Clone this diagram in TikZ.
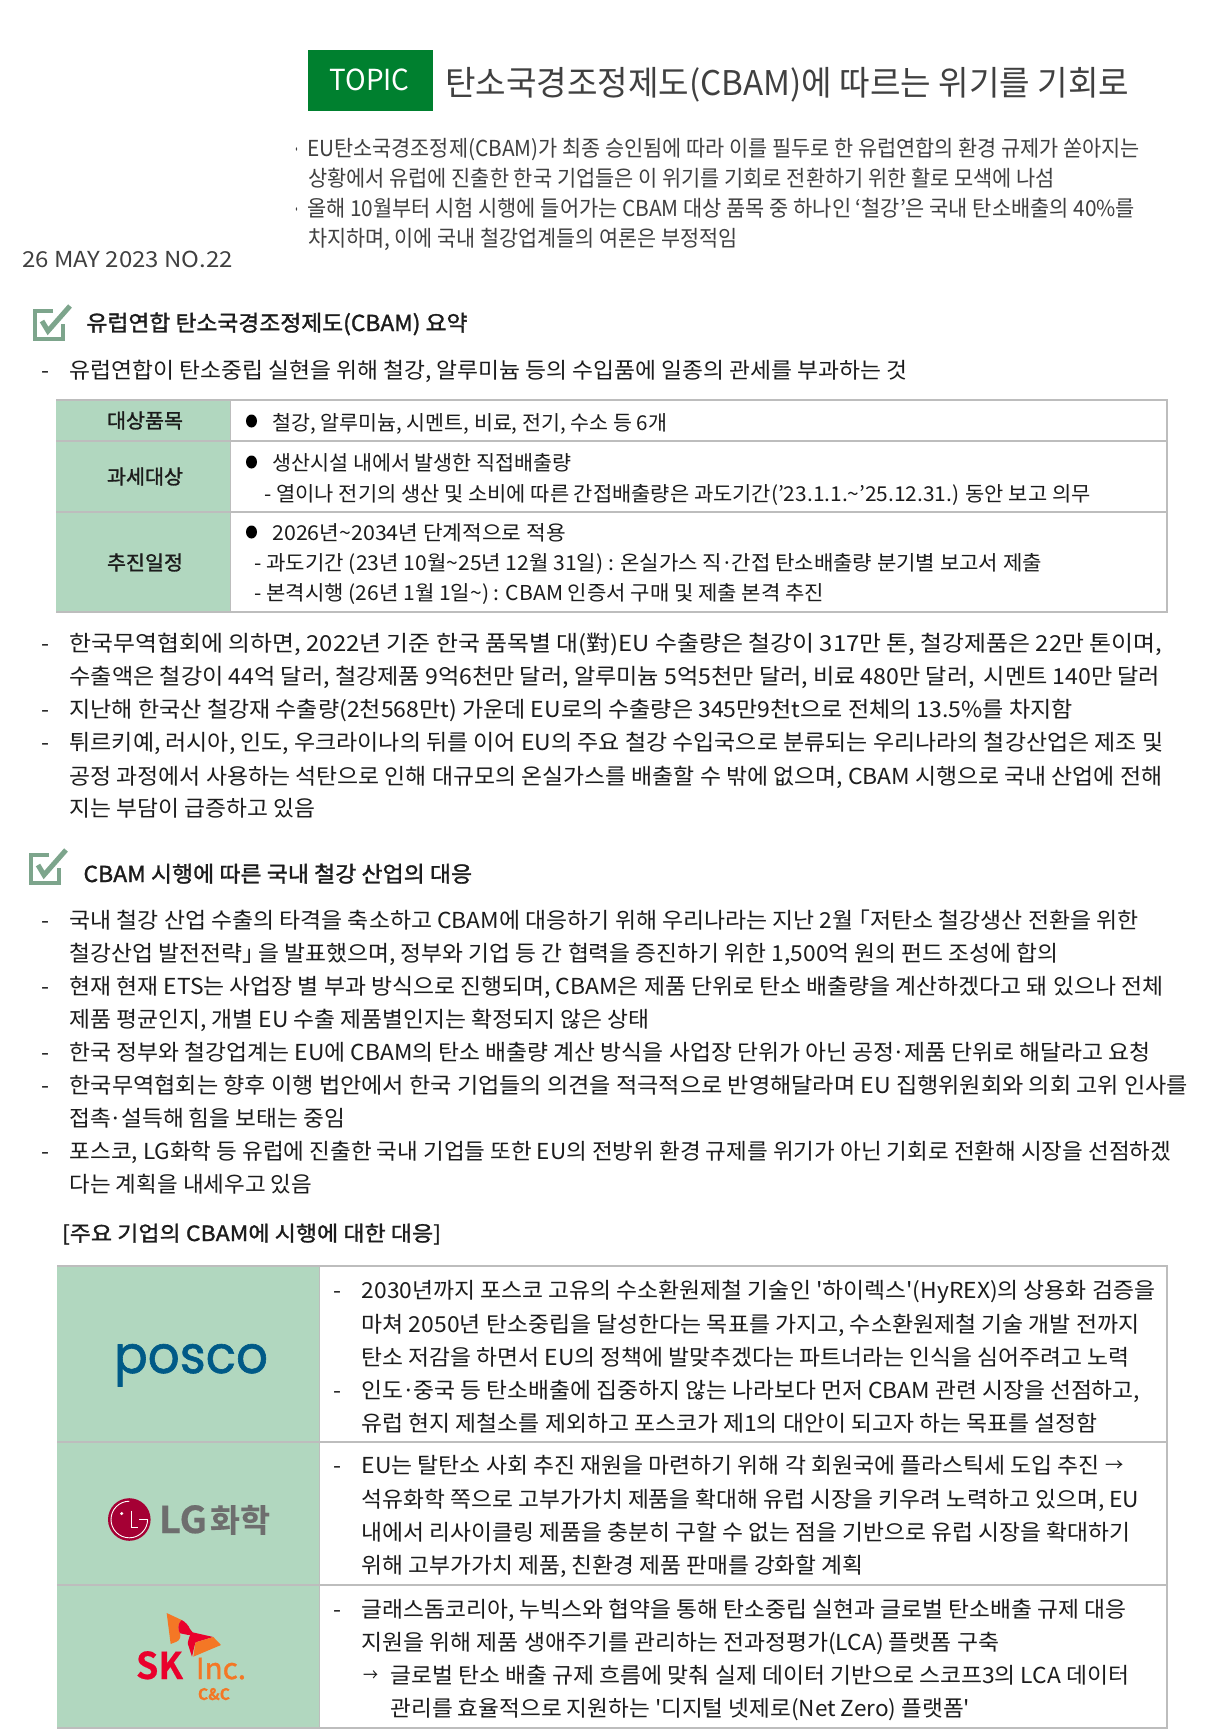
\documentclass[tikz,border=0pt]{standalone}
\usepackage{fontspec}
\usepackage{graphicx}
\setmainfont[Ligatures=TeXOff]{Noto Sans CJK KR}
\newfontfamily\krm[FakeBold=1.3,Ligatures=TeXOff]{Noto Sans CJK KR}
\newfontfamily\krb[FakeBold=0.5]{Noto Sans CJK KR Bold}
\newfontfamily\popp[FakeBold=1.2]{Poppins}
\definecolor{topicgreen}{HTML}{00802F}
\definecolor{titlegray}{HTML}{404040}
\definecolor{bodyink}{HTML}{1C1C1C}
\definecolor{labelgreen}{HTML}{B1D7BF}
\definecolor{rulegray}{HTML}{BDBDBD}
\definecolor{checkgreen}{HTML}{7DA58C}
\definecolor{poscoblue}{HTML}{005A87}
\definecolor{lgred}{HTML}{A50034}
\definecolor{lggray}{HTML}{6E6E6E}
\definecolor{skred}{HTML}{EA002C}
\definecolor{skorange}{HTML}{F47725}
\newcounter{tn}
\newcommand{\txtline}[5][]{\stepcounter{tn}\node[tx,#1] (t\arabic{tn}) at (#2,#3) {\resizebox{#4pt}{\height}{#5}};}
\newcommand{\sz}[1]{\fontsize{#1}{#1}\selectfont}
\newcommand{\mdot}{\kern-.06em·\kern-.06em}
\newcommand{\lbr}{\kern-.5em「}
\newcommand{\rbr}{」\kern-.5em}
\newcommand{\sarrow}{\raisebox{1.5pt}{\scalebox{.8}{→}}}
\tikzset{
  tx/.style={anchor=base west,inner sep=0pt,outer sep=0pt,text=bodyink,font=\sz{22}},
  tbl/.style={font=\sz{20.5}},
  head/.style={font=\sz{22}\krm},
  lab/.style={font=\sz{20}\krm},
  rulel/.style={draw=rulegray,line width=1.3pt},
  checkbox/.style={draw=checkgreen,line width=4pt},
  checkmark/.style={draw=checkgreen,line width=5pt}
}
\newcommand{\checkicon}[2]{%
  \begin{scope}[shift={(#1,#2)}]
    \draw[checkbox] (20,2) -- (2,2) -- (2,30) -- (30,30) -- (30,15);
    \draw[checkmark] (9,12) -- (15,22) -- (37,-3);
  \end{scope}}
\begin{document}
\begin{tikzpicture}[x=1pt,y=-1pt]
\useasboundingbox (0,0) rectangle (1215,1736);
\fill[white] (0,0) rectangle (1215,1736);

% header
\fill[topicgreen] (308,50) rectangle (433,111);
\txtline[font=\sz{29},text=white]{329.5}{91}{80}{TOPIC}
\txtline[font=\sz{34},text=titlegray]{445}{96}{684}{탄소국경조정제도(CBAM)에 따르는 위기를 기회로}
\txtline[font=\sz{22}\krm,text=titlegray]{294}{157}{5}{·}
\txtline[text=titlegray]{307}{157}{833}{EU탄소국경조정제(CBAM)가 최종 승인됨에 따라 이를 필두로 한 유럽연합의 환경 규제가 쏟아지는}
\txtline[text=titlegray]{308}{187}{747}{상황에서 유럽에 진출한 한국 기업들은 이 위기를 기회로 전환하기 위한 활로 모색에 나섬}
\txtline[font=\sz{22}\krm,text=titlegray]{294}{217}{5}{·}
\txtline[text=titlegray]{307}{217}{828}{올해 10월부터 시험 시행에 들어가는 CBAM 대상 품목 중 하나인 ‘철강’은 국내 탄소배출의 40\%를}
\txtline[text=titlegray]{308}{247}{429.5}{차지하며, 이에 국내 철강업계들의 여론은 부정적임}
\txtline[text=titlegray]{22}{268}{211}{26 MAY 2023 NO.22}

% section 1
\checkicon{33}{309}
\txtline[head]{86.5}{331}{381}{유럽연합 탄소국경조정제도(CBAM) 요약}
\txtline{41.8}{378}{8}{-}
\txtline{69.6}{378}{838}{유럽연합이 탄소중립 실현을 위해 철강, 알루미늄 등의 수입품에 일종의 관세를 부과하는 것}

% table 1
\fill[labelgreen] (56,400) rectangle (230.5,612);
\draw[rulel] (56,400) -- (1167,400) -- (1167,612) -- (56,612);
\draw[rulel] (56,441) -- (1167,441);
\draw[rulel] (56,512) -- (1167,512);
\draw[draw=rulegray,line width=1pt] (230.5,400) -- (230.5,612);
\txtline[lab]{107}{428}{76}{대상품목}
\txtline[lab]{107}{484}{76}{과세대상}
\txtline[lab]{107}{570}{76}{추진일정}
\fill[black] (251.5,421) ellipse (5.5 and 6.5);
\txtline[tbl]{272.4}{430}{394.7}{철강, 알루미늄, 시멘트, 비료, 전기, 수소 등 6개}
\fill[black] (251.5,462) ellipse (5.5 and 6.5);
\txtline[tbl]{272.4}{470}{299}{생산시설 내에서 발생한 직접배출량}
\txtline[tbl]{264.5}{501}{826}{- 열이나 전기의 생산 및 소비에 따른 간접배출량은 과도기간(’23.1.1.\textasciitilde’25.12.31.) 동안 보고 의무}
\fill[black] (251.5,532) ellipse (5.5 and 6.5);
\txtline[tbl]{272.4}{540}{293.3}{2026년\textasciitilde2034년 단계적으로 적용}
\txtline[tbl]{254.5}{570}{787.4}{- 과도기간 (23년 10월\textasciitilde25년 12월 31일) : 온실가스 직\mdot 간접 탄소배출량 분기별 보고서 제출}
\txtline[tbl]{254.5}{600}{569.7}{- 본격시행 (26년 1월 1일\textasciitilde) : CBAM 인증서 구매 및 제출 본격 추진}

% paragraphs 1
\txtline{41.8}{651}{8}{-}
\txtline{69.6}{651}{1092.6}{한국무역협회에 의하면, 2022년 기준 한국 품목별 대(對)EU 수출량은 철강이 317만 톤, 철강제품은 22만 톤이며,}
\txtline{69.6}{684}{1090.6}{수출액은 철강이 44억 달러, 철강제품 9억6천만 달러, 알루미늄 5억5천만 달러, 비료 480만 달러, \,시멘트 140만 달러}
\txtline{41.8}{717}{8}{-}
\txtline{69.6}{717}{1003}{지난해 한국산 철강재 수출량(2천568만t) 가운데 EU로의 수출량은 345만9천t으로 전체의 13.5\%를 차지함}
\txtline{41.8}{750}{8}{-}
\txtline{69.6}{750}{1093.6}{튀르키예, 러시아, 인도, 우크라이나의 뒤를 이어 EU의 주요 철강 수입국으로 분류되는 우리나라의 철강산업은 제조 및}
\txtline{69.6}{784}{1092.6}{공정 과정에서 사용하는 석탄으로 인해 대규모의 온실가스를 배출할 수 밖에 없으며, CBAM 시행으로 국내 산업에 전해}
\txtline{69.6}{816}{245.6}{지는 부담이 급증하고 있음}

% section 2
\checkicon{29}{853}
\txtline[head]{83.5}{882}{388.7}{CBAM 시행에 따른 국내 철강 산업의 대응}
\txtline{41.8}{928}{8}{-}
\txtline{69.6}{928}{1068.8}{국내 철강 산업 수출의 타격을 축소하고 CBAM에 대응하기 위해 우리나라는 지난 2월 \lbr 저탄소 철강생산 전환을 위한}
\txtline{69.6}{961}{989}{철강산업 발전전략\rbr{} 을 발표했으며, 정부와 기업 등 간 협력을 증진하기 위한 1,500억 원의 펀드 조성에 합의}
\txtline{41.8}{994}{8}{-}
\txtline{69.6}{994}{1093.6}{현재 현재 ETS는 사업장 별 부과 방식으로 진행되며, CBAM은 제품 단위로 탄소 배출량을 계산하겠다고 돼 있으나 전체}
\txtline{69.6}{1027}{579.6}{제품 평균인지, 개별 EU 수출 제품별인지는 확정되지 않은 상태}
\txtline{41.8}{1060}{8}{-}
\txtline{69.6}{1060}{1080.7}{한국 정부와 철강업계는 EU에 CBAM의 탄소 배출량 계산 방식을 사업장 단위가 아닌 공정\mdot 제품 단위로 해달라고 요청}
\txtline{41.8}{1093}{8}{-}
\txtline{69.6}{1093}{1118.5}{한국무역협회는 향후 이행 법안에서 한국 기업들의 의견을 적극적으로 반영해달라며 EU 집행위원회와 의회 고위 인사를}
\txtline{69.6}{1126}{275.4}{접촉\mdot 설득해 힘을 보태는 중임}
\txtline{41.8}{1159}{8}{-}
\txtline{69.6}{1159}{1101.6}{포스코, LG화학 등 유럽에 진출한 국내 기업들 또한 EU의 전방위 환경 규제를 위기가 아닌 기회로 전환해 시장을 선점하겠}
\txtline{69.6}{1192}{242.6}{다는 계획을 내세우고 있음}
\txtline[font=\sz{21}\krm]{62}{1241}{379}{[주요 기업의 CBAM에 시행에 대한 대응]}

% table 2
\fill[labelgreen] (57,1266) rectangle (319.5,1728);
\draw[rulel] (57,1266) -- (1167,1266) -- (1167,1728) -- (57,1728);
\draw[rulel] (57,1442) -- (1167,1442);
\draw[rulel] (57,1585) -- (1167,1585);
\draw[draw=rulegray,line width=1pt] (319.5,1266) -- (319.5,1728);
\txtline{333.9}{1298}{8}{-}
\txtline{361.7}{1298}{793.4}{2030년까지 포스코 고유의 수소환원제철 기술인 '하이렉스'(HyREX)의 상용화 검증을}
\txtline{361.7}{1332}{777.5}{마쳐 2050년 탄소중립을 달성한다는 목표를 가지고, 수소환원제철 기술 개발 전까지}
\txtline{361.7}{1365}{767.5}{탄소 저감을 하면서 EU의 정책에 발맞추겠다는 파트너라는 인식을 심어주려고 노력}
\txtline{333.9}{1398}{8}{-}
\txtline{361.7}{1398}{778.5}{인도\mdot 중국 등 탄소배출에 집중하지 않는 나라보다 먼저 CBAM 관련 시장을 선점하고,}
\txtline{361.7}{1431}{735.7}{유럽 현지 제철소를 제외하고 포스코가 제1의 대안이 되고자 하는 목표를 설정함}
\txtline{333.9}{1473}{8}{-}
\txtline{361.7}{1473}{761.6}{EU는 탈탄소 사회 추진 재원을 마련하기 위해 각 회원국에 플라스틱세 도입 추진 \sarrow}
\txtline{361.7}{1507}{777.5}{석유화학 쪽으로 고부가가치 제품을 확대해 유럽 시장을 키우려 노력하고 있으며, EU}
\txtline{361.7}{1540}{768.5}{내에서 리사이클링 제품을 충분히 구할 수 없는 점을 기반으로 유럽 시장을 확대하기}
\txtline{361.7}{1573}{502}{위해 고부가가치 제품, 친환경 제품 판매를 강화할 계획}
\txtline{333.9}{1617}{8}{-}
\txtline{361.7}{1617}{764.5}{글래스돔코리아, 누빅스와 협약을 통해 탄소중립 실현과 글로벌 탄소배출 규제 대응}
\txtline{361.7}{1650}{637.3}{지원을 위해 제품 생애주기를 관리하는 전과정평가(LCA) 플랫폼 구축}
\txtline{363}{1683}{15}{\sarrow}
\txtline{390.5}{1683}{738.7}{글로벌 탄소 배출 규제 흐름에 맞춰 실제 데이터 기반으로 스코프3의 LCA 데이터}
\txtline{390.5}{1716}{579.6}{관리를 효율적으로 지원하는 '디지털 넷제로(Net Zero) 플랫폼'}

% logos
\txtline[font=\sz{52}\popp,text=poscoblue]{114}{1373}{154}{posco}
\fill[lgred] (129.3,1519.5) circle (21.3);
\draw[white,line width=0.9pt] (129.3,1501.2) arc[start angle=90,end angle=360,x radius=18.3,y radius=-18.3];
\draw[white,line width=0.9pt] (147.6,1519.5) -- (139,1519.5);
\draw[white,line width=0.9pt] (131,1510.5) -- (131,1527.5) -- (138,1527.5);
\fill[white] (121.7,1513.5) circle (1.7);
\txtline[font=\sz{37}\krb,text=lggray]{159}{1533}{48}{LG}
\txtline[font=\sz{32}\krb,text=lggray]{210}{1532}{60}{화학}
\begin{scope}[shift={(130,1605)},x=0.3333pt,y=-0.3333pt]
  \fill[skorange] (110,24) -- (155,45) .. controls (140,60) and (145,75) .. (150,85) .. controls (153,95) and (150,105) .. (140,110) -- (122,117) -- cycle;
  \fill[skred] (155,45) .. controls (165,50) and (175,60) .. (180,72) -- (188,82) -- (250,96) -- (197,112) .. controls (192,125) and (190,140) .. (186,155) -- (174,118) .. controls (172,110) and (178,100) .. (180,90) .. controls (170,90) and (155,85) .. (150,85) .. controls (145,75) and (140,60) .. (155,45) -- cycle;
  \fill[skorange] (197,112) -- (250,96) -- (273,120) -- (190,155) .. controls (193,140) and (193,125) .. (197,112) -- cycle;
\end{scope}
\txtline[font=\sz{37}\krb,text=skred]{136}{1679}{47}{SK}
\txtline[font=\sz{29}\krm,text=skorange]{196}{1679}{50}{Inc.}
\txtline[font=\sz{16}\krb,text=skorange]{198}{1700}{32}{C\&C}
\end{tikzpicture}
\end{document}
